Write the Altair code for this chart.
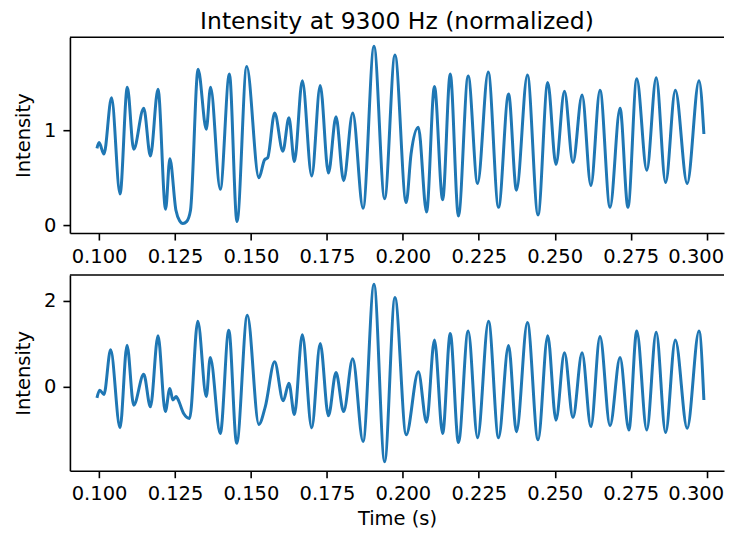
import altair as alt
import pandas as pd

chart_title = "Intensity at 9300 Hz (normalized)"
x_title = "Time (s)"
y_title = "Intensity"
x_ticks = [0.100, 0.125, 0.150, 0.175, 0.200, 0.225, 0.250, 0.275, 0.300]
top_y_ticks = [0, 1]
bottom_y_ticks = [0, 2]

top_time = [0.0993, 0.1000, 0.1016, 0.1041, 0.1069, 0.1093, 0.1114, 0.1147, 0.1169, 0.1194,
            0.1219, 0.1233, 0.1253, 0.1265, 0.1276, 0.1288, 0.1301, 0.1326, 0.1353, 0.1367,
            0.1399, 0.1429, 0.1454, 0.1486, 0.1526, 0.1545, 0.1555, 0.1578, 0.1605, 0.1625,
            0.1643, 0.1669, 0.1700, 0.1728, 0.1755, 0.1780, 0.1805, 0.1835, 0.1869, 0.1905,
            0.1940, 0.1974, 0.2011, 0.2027, 0.2051, 0.2078, 0.2104, 0.2131, 0.2156, 0.2183,
            0.2215, 0.2246, 0.2281, 0.2315, 0.2348, 0.2374, 0.2410, 0.2445, 0.2477, 0.2504,
            0.2532, 0.2560, 0.2590, 0.2619, 0.2649, 0.2682, 0.2715, 0.2741, 0.2770, 0.2803,
            0.2834, 0.2865, 0.2897, 0.2936, 0.2975, 0.2991]
top_intensity = [0.81, 0.87, 0.75, 1.34, 0.33, 1.45, 0.80, 1.23, 0.73, 1.43,
                 0.17, 0.70, 0.16, 0.05, 0.02, 0.04, 0.16, 1.64, 1.01, 1.45,
                 0.38, 1.59, 0.04, 1.67, 0.50, 0.69, 0.71, 1.18, 0.78, 1.13,
                 0.67, 1.52, 0.52, 1.47, 0.55, 1.14, 0.47, 1.18, 0.18, 1.88,
                 0.28, 1.79, 0.24, 0.75, 1.03, 0.14, 1.46, 0.27, 1.59, 0.10,
                 1.57, 0.44, 1.61, 0.19, 1.38, 0.37, 1.58, 0.11, 1.50, 0.64,
                 1.41, 0.66, 1.37, 0.42, 1.42, 0.19, 1.23, 0.19, 1.54, 0.58,
                 1.55, 0.45, 1.42, 0.44, 1.52, 0.96]

bottom_time = [0.0993, 0.1002, 0.1016, 0.1038, 0.1069, 0.1092, 0.1114, 0.1147, 0.1169, 0.1194,
               0.1218, 0.1233, 0.1243, 0.1254, 0.1260, 0.1279, 0.1298, 0.1325, 0.1353, 0.1366,
               0.1399, 0.1427, 0.1453, 0.1488, 0.1526, 0.1547, 0.1578, 0.1606, 0.1625, 0.1643,
               0.1669, 0.1700, 0.1728, 0.1755, 0.1780, 0.1805, 0.1835, 0.1869, 0.1905, 0.1940,
               0.1974, 0.2011, 0.2051, 0.2078, 0.2104, 0.2131, 0.2156, 0.2183, 0.2215, 0.2246,
               0.2282, 0.2315, 0.2348, 0.2374, 0.2410, 0.2445, 0.2477, 0.2504, 0.2532, 0.2560,
               0.2590, 0.2619, 0.2649, 0.2682, 0.2715, 0.2744, 0.2770, 0.2803, 0.2834, 0.2865,
               0.2897, 0.2936, 0.2975, 0.2991]
bottom_intensity = [-0.26, -0.08, -0.18, 0.86, -0.96, 0.97, -0.43, 0.29, -0.47, 1.19,
                    -0.58, -0.04, -0.31, -0.23, -0.30, -0.63, -0.74, 1.53, -0.23, 0.68,
                    -1.09, 1.32, -1.32, 1.67, -0.88, -0.47, 0.58, -0.33, 0.08, -0.65,
                    1.21, -0.96, 1.01, -0.68, 0.33, -0.58, 0.65, -1.28, 2.39, -1.75,
                    2.08, -1.12, 0.35, -0.83, 1.09, -1.09, 1.24, -1.30, 1.30, -1.19,
                    1.53, -1.19, 0.96, -1.05, 1.50, -1.24, 1.19, -0.78, 0.79, -0.72,
                    0.79, -0.93, 1.17, -0.91, 0.68, -1.01, 1.30, -1.01, 1.27, -1.07,
                    1.09, -0.97, 1.30, -0.31]

FONT = "DejaVu Sans"
W = 655
H = 196
PX_PER_UNIT = 3042.0
X_DOMAIN = [0.0904, 0.0904 + W / PX_PER_UNIT]


def panel(times, values, y_domain, y_ticks, show_x_title, title=None):
    df = pd.DataFrame({"t": times, "v": values})
    x_axis_kwargs = dict(values=x_ticks, format=".3f", grid=False,
                         domain=True, domainColor="black", domainWidth=1.6,
                         tickSize=7, tickWidth=1.6, tickColor="black",
                         labelPadding=7, labelFontSize=19.5, labelFont=FONT,
                         labelColor="black", labelFlush=20, labelFlushOffset=17)
    if show_x_title:
        x_axis = alt.Axis(title=x_title, titleFont=FONT, titleFontSize=19.5,
                          titleFontWeight="normal", titleColor="black",
                          titlePadding=6, **x_axis_kwargs)
    else:
        x_axis = alt.Axis(title=None, **x_axis_kwargs)
    y_axis = alt.Axis(title=y_title, values=y_ticks, format="d", grid=False,
                      domain=True, domainColor="black", domainWidth=1.6,
                      tickSize=7, tickWidth=1.6, tickColor="black",
                      labelPadding=7, labelFontSize=19.5, labelFont=FONT, labelColor="black",
                      titleFont=FONT, titleFontSize=19.5, titleFontWeight="normal",
                      titleColor="black", titlePadding=9, minExtent=27, maxExtent=27)
    line = alt.Chart(df).mark_line(color="#1f77b4", strokeWidth=3, interpolate="monotone",
                                   clip=True).encode(
        x=alt.X("t:Q", scale=alt.Scale(domain=X_DOMAIN, nice=False, zero=False), axis=x_axis),
        y=alt.Y("v:Q", scale=alt.Scale(domain=y_domain, nice=False, zero=False), axis=y_axis),
    )
    top_edge = alt.Chart(pd.DataFrame({"edge": [0]})).mark_rule(
        color="black", strokeWidth=1.6).encode(
        x=alt.value(0), x2=alt.value(W), y=alt.value(0))
    props = dict(width=W, height=H)
    if title is not None:
        props["title"] = title
    return alt.layer(line, top_edge).properties(**props)


top_title = alt.TitleParams(text=chart_title, font=FONT, fontSize=23.5, fontWeight="normal",
                            color="black", anchor="middle", frame="group", offset=3.5)

top = panel(top_time, top_intensity, [-0.080, 1.975], top_y_ticks, False, top_title)
bottom = panel(bottom_time, bottom_intensity, [-1.960, 2.607], bottom_y_ticks, True)

chart = alt.vconcat(top, bottom, spacing=8).properties(
    padding={"left": 6, "top": 1, "right": 0, "bottom": 4}
).configure_view(stroke=None)

chart.save("out.html", embed_options={"renderer": "svg", "actions": False})
